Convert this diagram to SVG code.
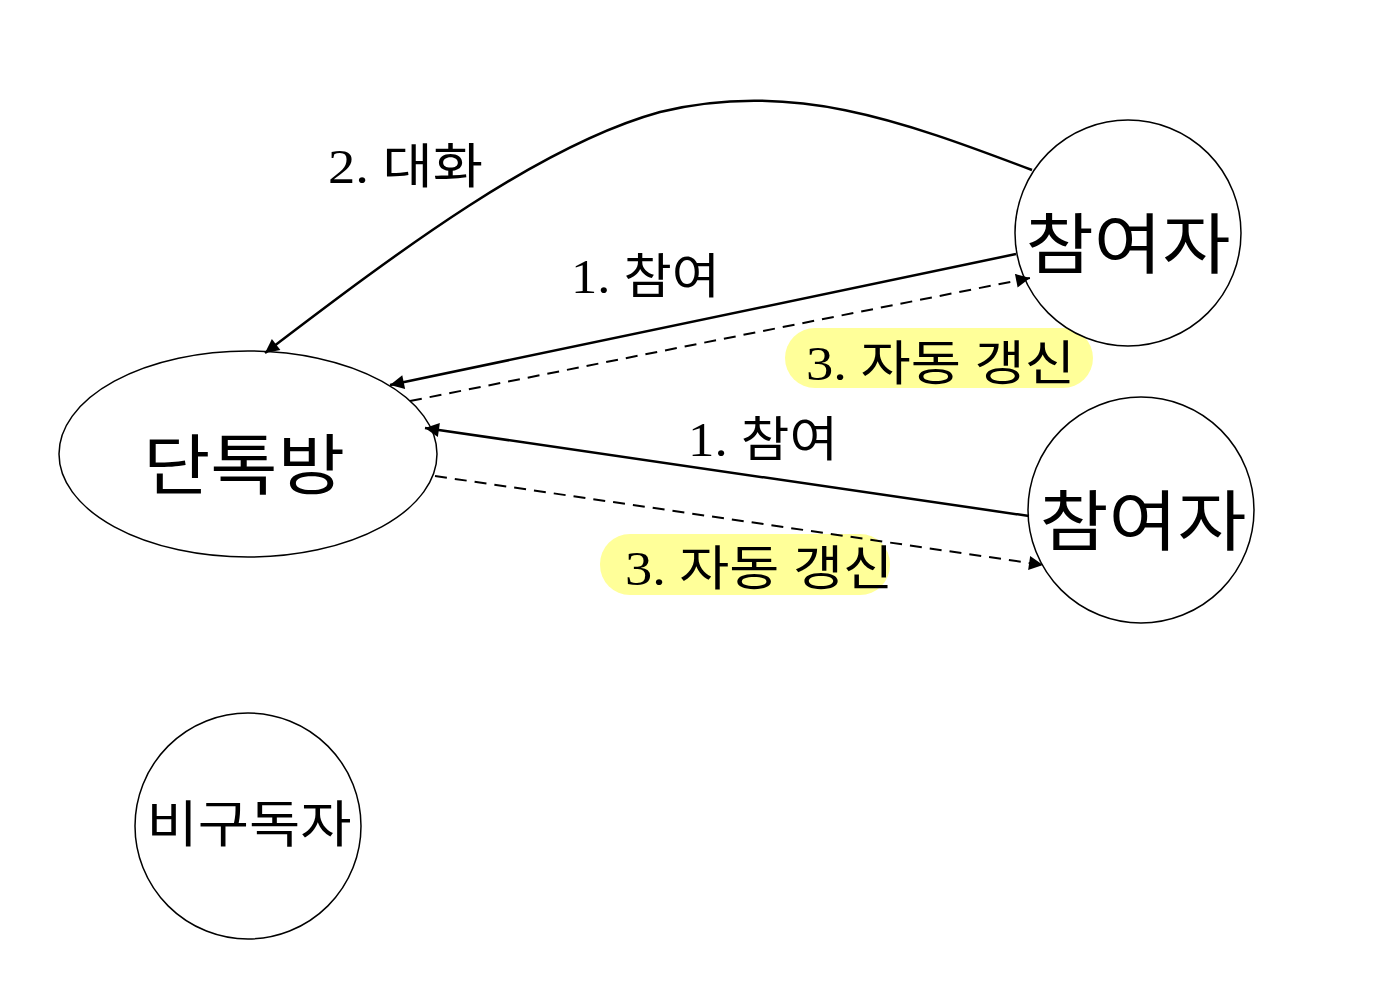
<svg xmlns="http://www.w3.org/2000/svg" width="1398" height="1000" viewBox="0 0 1398 1000">
<style>
.node{fill:#fff;stroke:#000;stroke-width:1.5}
.nt{font-family:"Noto Sans CJK KR","Liberation Sans",sans-serif;text-anchor:middle;fill:#000}
.lbl{font-family:"Liberation Serif","Noto Sans CJK KR",serif;font-size:48px;fill:#000}
.edge{fill:none;stroke:#000;stroke-width:2.5}
.dash{fill:none;stroke:#000;stroke-width:2;stroke-dasharray:12,8}
.hl{fill:#ffff99}
</style>
<defs>
<marker id="ah2" viewBox="0 0 10 10" refX="10" refY="5" markerWidth="18" markerHeight="14" markerUnits="userSpaceOnUse" orient="auto"><path d="M0,0 L10,5 L0,10 z" fill="#000"/></marker>
</defs>
<rect width="1398" height="1000" fill="#fff"/>
<g id="highlights">
<rect class="hl" x="785" y="328" width="308" height="60" rx="30"/>
<rect class="hl" x="600" y="534" width="290" height="61" rx="30"/>
</g>
<g id="n-room"><ellipse class="node" cx="248" cy="454" rx="189" ry="103"/><text class="nt" x="244" y="489" font-size="66" textLength="202" lengthAdjust="spacingAndGlyphs">단톡방</text></g>
<g id="n-p1"><circle class="node" cx="1128" cy="233" r="113"/><text class="nt" x="1128" y="268" font-size="66" textLength="205" lengthAdjust="spacingAndGlyphs">참여자</text></g>
<g id="n-p2"><circle class="node" cx="1141" cy="510" r="113"/><text class="nt" x="1143" y="545" font-size="66" textLength="207" lengthAdjust="spacingAndGlyphs">참여자</text></g>
<g id="n-non"><circle class="node" cx="248" cy="826" r="113"/><text class="nt" x="249" y="842" font-size="50" textLength="205" lengthAdjust="spacingAndGlyphs">비구독자</text></g>
<g id="connectors">
<path class="edge" d="M1032,170 C900,120 790,80 660,112 C540,145 400,250 265,353" marker-end="url(#ah2)"/>
<path class="edge" d="M1016,254 L390,385" marker-end="url(#ah2)"/>
<path class="dash" d="M410,401 L1030,278" marker-end="url(#ah2)"/>
<path class="edge" d="M1029,516 L425,428" marker-end="url(#ah2)"/>
<path class="dash" d="M435,476 L1043,565" marker-end="url(#ah2)"/>
</g>
<g id="labels">
<text class="lbl" x="328" y="183" textLength="155" lengthAdjust="spacingAndGlyphs">2. 대화</text>
<text class="lbl" x="571" y="293" textLength="149" lengthAdjust="spacingAndGlyphs">1. 참여</text>
<text class="lbl" x="688" y="456" textLength="150" lengthAdjust="spacingAndGlyphs">1. 참여</text>
<text class="lbl" x="806" y="380" textLength="269" lengthAdjust="spacingAndGlyphs">3. 자동 갱신</text>
<text class="lbl" x="625" y="585" textLength="268" lengthAdjust="spacingAndGlyphs">3. 자동 갱신</text>
</g>
</svg>
